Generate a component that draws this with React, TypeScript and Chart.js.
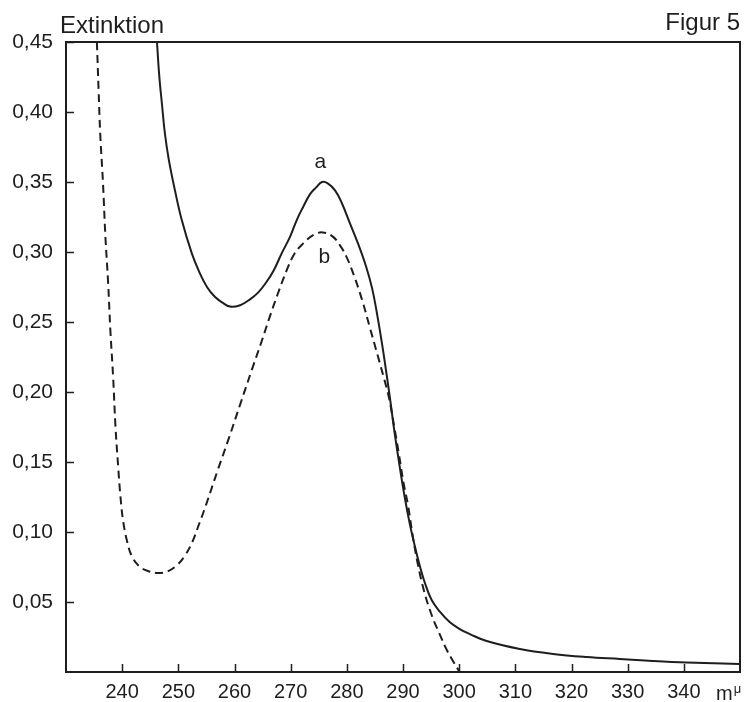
import { useEffect, useRef } from "react";
import { Chart, registerables } from "chart.js";

Chart.register(...registerables);

// Curve a (solid) — wavelength in mμ, extinction
const wavelengthsA = [
  246.2, 246.6, 247.1, 247.6, 248.3, 249.4, 250.6, 252.4, 253.7, 255.1, 256.5, 257.8,
  259.2, 261.0, 262.7, 264.2, 265.6, 267.0, 268.4, 269.9, 271.1, 272.2, 273.4, 274.5,
  275.6, 276.6, 277.9, 279.1, 280.5, 282.0, 283.4, 284.5, 285.5, 286.4, 287.1, 287.8,
  288.5, 289.4, 290.3, 291.2, 292.1, 293.0, 293.9, 295.1, 296.6, 298.3, 300.1, 301.9,
  304.9, 310.8, 316.7, 322.7, 328.6, 334.5, 340.5, 350.0,
];
const extinctionA = [
  0.45, 0.426, 0.405, 0.385, 0.366, 0.344, 0.323, 0.299, 0.286, 0.275, 0.268, 0.264,
  0.261, 0.262, 0.266, 0.271, 0.278, 0.287, 0.299, 0.311, 0.323, 0.332, 0.341, 0.346,
  0.35, 0.349, 0.344, 0.335, 0.321, 0.306, 0.29, 0.274, 0.253, 0.231, 0.212, 0.192,
  0.171, 0.147, 0.125, 0.106, 0.09, 0.0757, 0.0636, 0.0514, 0.0429, 0.0357, 0.0307, 0.0271,
  0.0221, 0.0164, 0.0129, 0.0107, 0.0093, 0.0079, 0.0068, 0.0057,
];

// Curve b (dashed)
const wavelengthsB = [
  235.5, 235.8, 236.1, 236.6, 237.0, 237.5, 237.9, 238.4, 238.8, 239.3, 239.7, 240.2,
  240.9, 241.7, 243.0, 244.6, 246.5, 248.2, 249.6, 251.0, 252.4, 253.7, 254.9, 257.0,
  259.0, 261.0, 263.1, 264.9, 266.3, 267.7, 269.3, 270.7, 272.2, 274.0, 275.7, 277.5,
  278.9, 280.0, 281.2, 282.7, 284.1, 285.5, 286.6, 287.5, 288.4, 289.3, 290.1, 290.9,
  291.7, 292.6, 293.7, 295.1, 296.6, 297.8, 299.0, 300.1,
];
const extinctionB = [
  0.45, 0.416, 0.384, 0.348, 0.312, 0.278, 0.244, 0.21, 0.176, 0.146, 0.125, 0.107,
  0.093, 0.0829, 0.0757, 0.0721, 0.0707, 0.0721, 0.0757, 0.0821, 0.0921, 0.1057, 0.119, 0.144,
  0.167, 0.191, 0.216, 0.237, 0.254, 0.27, 0.287, 0.299, 0.306, 0.312, 0.314, 0.311,
  0.304, 0.296, 0.284, 0.266, 0.246, 0.226, 0.21, 0.196, 0.176, 0.155, 0.135, 0.119,
  0.098, 0.0779, 0.0586, 0.0407, 0.0264, 0.0157, 0.0071, 0.0,
];

const xTickValues = [240, 250, 260, 270, 280, 290, 300, 310, 320, 330, 340];
const yTickValues = [0.05, 0.1, 0.15, 0.2, 0.25, 0.3, 0.35, 0.4, 0.45];
const yAxisTitle = "Extinktion";
const figureTitle = "Figur 5";
const xUnitMain = "m";
const xUnitSup = "μ";
const seriesNames = ["a", "b"];

const INK = "#1e1e1e";
const FONT = '"Liberation Sans", Arial, sans-serif';

const framePlugin = {
  id: "frame",
  beforeDraw(chart: any) {
    const { ctx, width, height } = chart;
    ctx.save();
    ctx.fillStyle = "#ffffff";
    ctx.fillRect(0, 0, width, height);
    ctx.restore();
  },
  afterDatasetsDraw(chart: any) {
    const { ctx, chartArea: a, scales } = chart;
    const x = scales.x;
    const y = scales.y;
    ctx.save();
    ctx.strokeStyle = INK;
    ctx.lineWidth = 2;
    ctx.strokeRect(a.left, a.top, a.right - a.left, a.bottom - a.top);
    ctx.beginPath();
    xTickValues.forEach((v) => {
      const px = Math.round(x.getPixelForValue(v)) + 0.5;
      ctx.moveTo(px, a.bottom);
      ctx.lineTo(px, a.bottom - 8);
    });
    yTickValues.forEach((v) => {
      const py = Math.round(y.getPixelForValue(v)) + 0.5;
      ctx.moveTo(a.left, py);
      ctx.lineTo(a.left + 8, py);
    });
    ctx.lineWidth = 1.5;
    ctx.stroke();

    ctx.fillStyle = INK;
    ctx.textBaseline = "middle";
    ctx.font = `24px ${FONT}`;
    ctx.textAlign = "left";
    ctx.fillText(yAxisTitle, a.left - 6, a.top - 16);
    ctx.textAlign = "right";
    ctx.fillText(figureTitle, a.right, a.top - 19);

    ctx.font = `21px ${FONT}`;
    ctx.textAlign = "center";
    ctx.fillText(seriesNames[0], x.getPixelForValue(275.3), y.getPixelForValue(0.364));
    ctx.fillText(seriesNames[1], x.getPixelForValue(276.0), y.getPixelForValue(0.296));

    ctx.textBaseline = "alphabetic";
    ctx.textAlign = "left";
    ctx.font = `20px ${FONT}`;
    const ux = a.right - 24;
    ctx.fillText(xUnitMain, ux, a.bottom + 28);
    const mw = ctx.measureText(xUnitMain).width;
    ctx.font = `13px ${FONT}`;
    ctx.fillText(xUnitSup, ux + mw + 1, a.bottom + 21);
    ctx.restore();
  },
};

export default function App() {
  const canvasRef = useRef<HTMLCanvasElement | null>(null);

  useEffect(() => {
    document.body.style.margin = "0";
    const canvas = canvasRef.current;
    if (!canvas) return;
    const chart = new Chart(canvas, {
      type: "line",
      data: {
        datasets: [
          {
            label: seriesNames[0],
            data: wavelengthsA.map((w, i) => ({ x: w, y: extinctionA[i] })),
            borderColor: INK,
            borderWidth: 2,
            pointRadius: 0,
            fill: false,
            tension: 0.4,
          },
          {
            label: seriesNames[1],
            data: wavelengthsB.map((w, i) => ({ x: w, y: extinctionB[i] })),
            borderColor: INK,
            borderWidth: 2,
            borderDash: [8, 5],
            pointRadius: 0,
            fill: false,
            tension: 0.4,
          },
        ],
      },
      options: {
        animation: false,
        responsive: false,
        devicePixelRatio: 1,
        layout: { padding: { top: 42, right: 9, left: 0, bottom: 0 } },
        plugins: { legend: { display: false }, tooltip: { enabled: false }, title: { display: false } },
        scales: {
          x: {
            type: "linear",
            min: 230,
            max: 350,
            afterBuildTicks: (s: any) => {
              s.ticks = xTickValues.map((v) => ({ value: v }));
            },
            afterFit: (s: any) => {
              s.height = 30;
              s.paddingLeft = 0;
              s.paddingRight = 0;
            },
            grid: { display: false, drawTicks: false },
            border: { display: false },
            ticks: {
              autoSkip: false,
              maxRotation: 0,
              padding: 8,
              color: INK,
              font: { family: FONT, size: 20 },
              callback: (v: any) => String(v),
            },
          },
          y: {
            type: "linear",
            min: 0,
            max: 0.45,
            afterBuildTicks: (s: any) => {
              s.ticks = yTickValues.map((v) => ({ value: v }));
            },
            afterFit: (s: any) => {
              s.width = 66;
              s.paddingTop = 0;
              s.paddingBottom = 0;
            },
            grid: { display: false, drawTicks: false },
            border: { display: false },
            ticks: {
              padding: 13,
              color: INK,
              font: { family: FONT, size: 21 },
              callback: (v: any) => Number(v).toFixed(2).replace(".", ","),
            },
          },
        },
      },
      plugins: [framePlugin],
    } as any);
    return () => chart.destroy();
  }, []);

  return (
    <div style={{ position: "absolute", left: 0, top: 0, width: 749, height: 702 }}>
      <canvas ref={canvasRef} width={749} height={702} />
    </div>
  );
}
